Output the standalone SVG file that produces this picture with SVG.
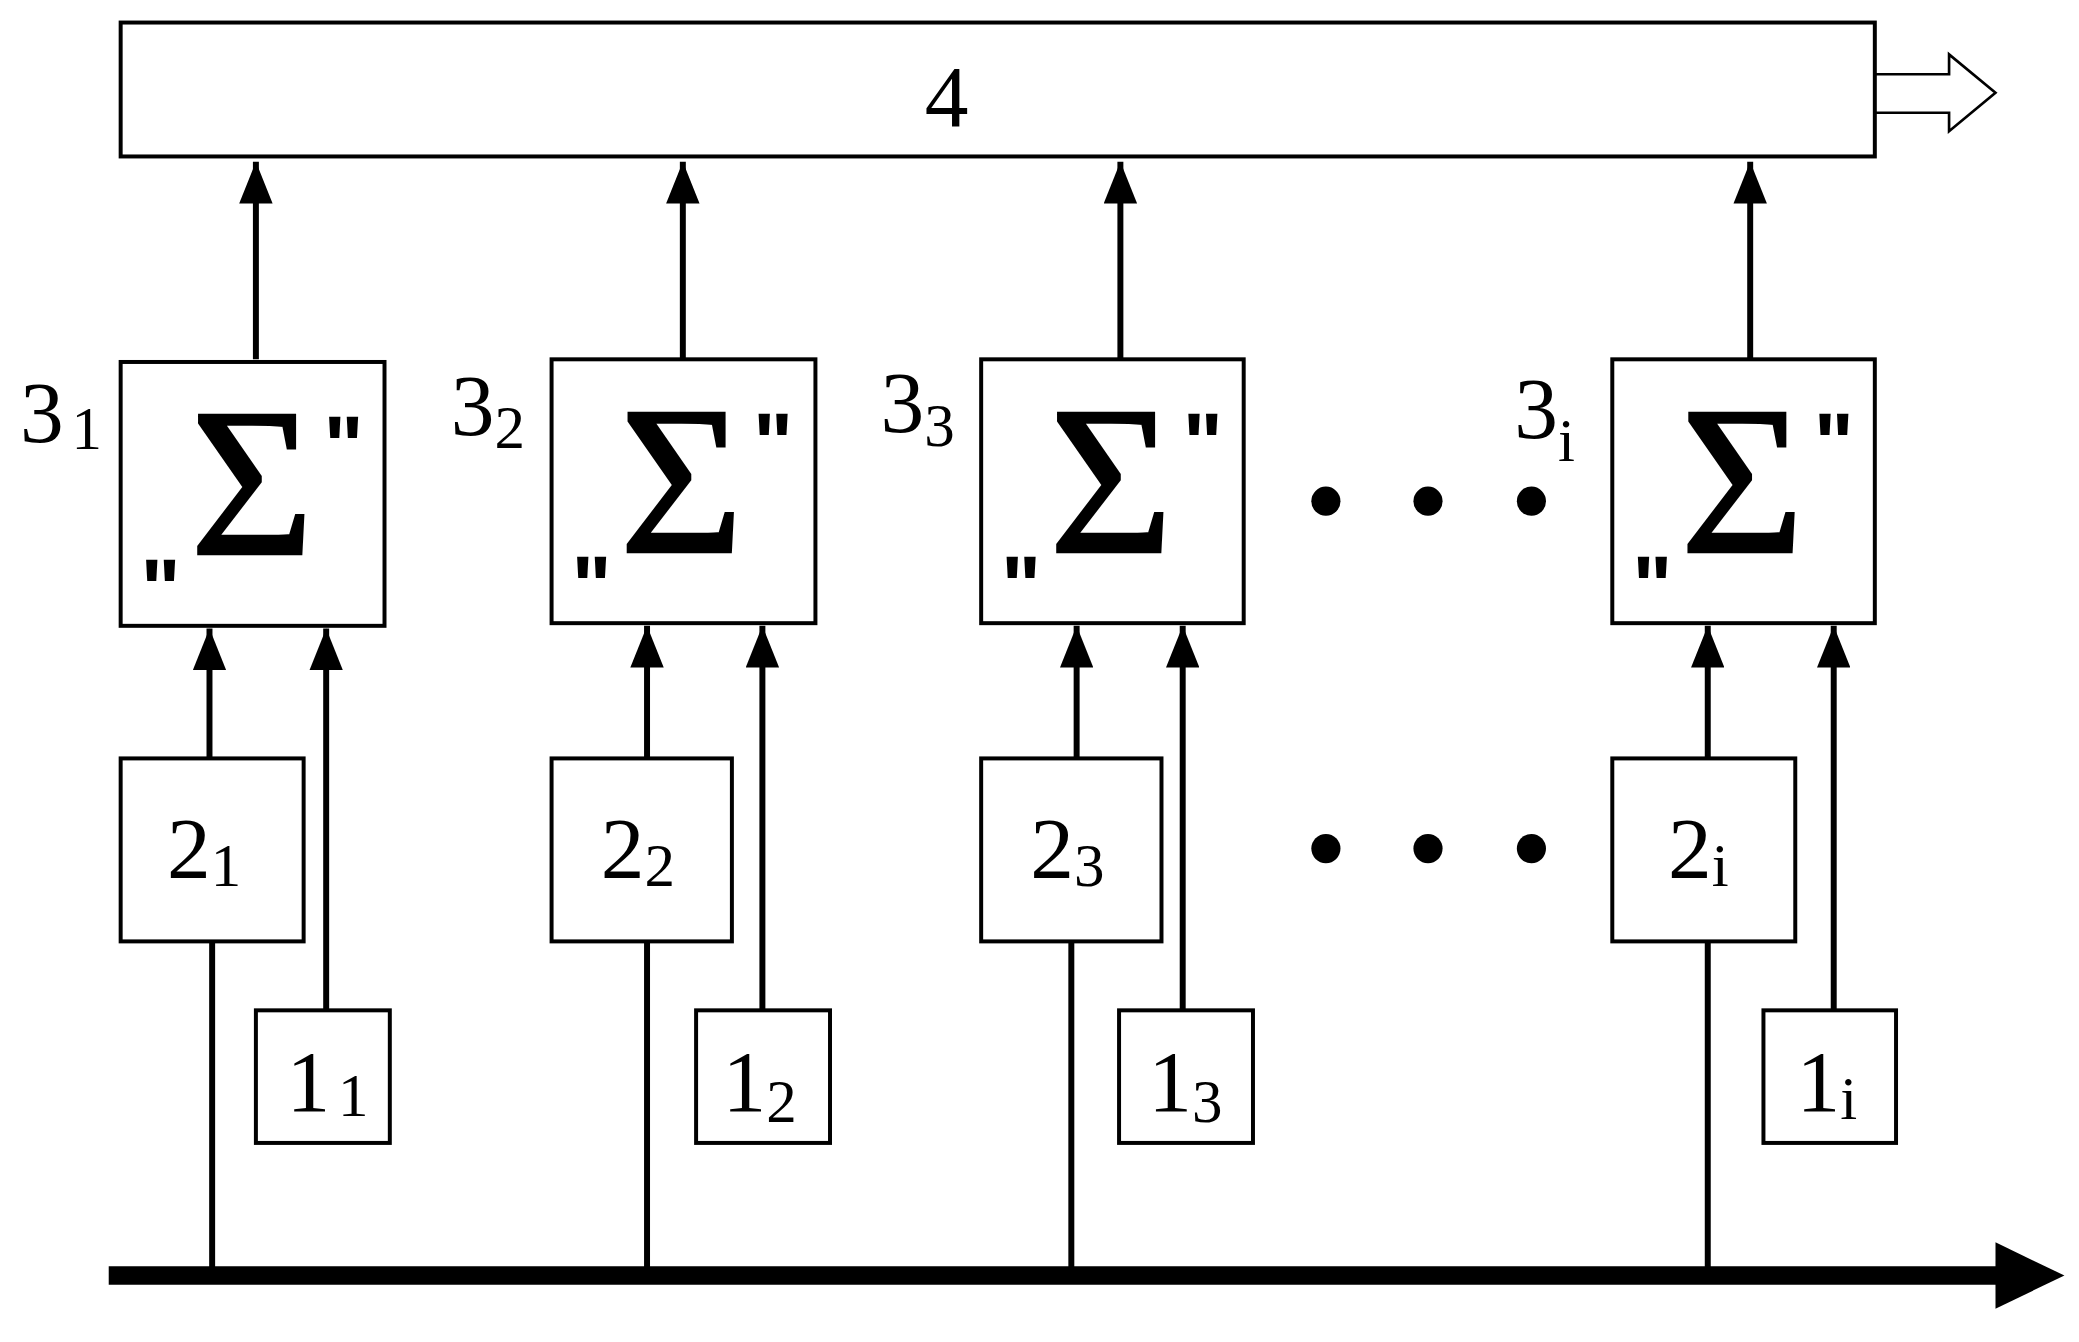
<svg xmlns="http://www.w3.org/2000/svg" width="2079" height="1342" viewBox="0 0 2079 1342">
<style>
.b{fill:#fff;stroke:#000;stroke-width:3}
.t{font-family:'Liberation Serif','Times New Roman',serif;font-size:66px;fill:#000}
.s{font-size:46px}
.sg{font-family:'Liberation Serif','Times New Roman',serif;font-size:160px;fill:#000;text-anchor:middle;stroke:#000;stroke-width:2}
.q{font-family:'Liberation Sans',Arial,sans-serif;font-weight:bold;font-size:64px;fill:#000}
.l{stroke:#000;stroke-width:4.5;fill:none}
</style>
<defs>
<marker id="a" viewBox="0 0 10 8" refX="10" refY="4" markerWidth="7" markerHeight="5.6" markerUnits="strokeWidth" orient="auto"><path d="M0,0 L10,4 L0,8Z" fill="#000"/></marker>
</defs>
<rect width="2079" height="1342" fill="#fff"/>
<g transform="scale(1.3259)">
<g id="connectors">
<path class="l" marker-end="url(#a)" d="M193,271V122"/>
<path class="l" marker-end="url(#a)" d="M515,271V122"/>
<path class="l" marker-end="url(#a)" d="M845,271V122"/>
<path class="l" marker-end="url(#a)" d="M1320,271V122"/>
<path class="l" marker-end="url(#a)" d="M158,572V474"/>
<path class="l" marker-end="url(#a)" d="M488,572V472"/>
<path class="l" marker-end="url(#a)" d="M812,572V472"/>
<path class="l" marker-end="url(#a)" d="M1288,572V472"/>
<path class="l" marker-end="url(#a)" d="M246,762V474"/>
<path class="l" marker-end="url(#a)" d="M575,762V472"/>
<path class="l" marker-end="url(#a)" d="M892,762V472"/>
<path class="l" marker-end="url(#a)" d="M1383,762V472"/>
<path class="l" d="M160,962V710M488,962V710M808,962V710M1288,962V710"/>
<path d="M82,955H1510V969H82Z" fill="#000"/>
<path d="M1505,937L1557,962L1505,987Z" fill="#000"/>
<path d="M1414,56H1470V41L1505,70L1470,99V85H1414" fill="#fff" stroke="#000" stroke-width="2"/>
</g>
<g id="n4"><rect class="b" x="91" y="17" width="1323" height="101"/><text class="t" x="714" y="95" text-anchor="middle">4</text></g>
<g id="n3_1"><rect class="b" x="91" y="273" width="199" height="199"/><text class="sg" x="190" y="418">Σ</text><text class="q" x="244" y="358">"</text><text class="q" x="106" y="466">"</text><text class="t" x="15" y="333">3<tspan class="s" dx="6" dy="6">1</tspan></text></g>
<g id="n3_2"><rect class="b" x="416" y="271" width="199" height="199"/><text class="sg" x="514" y="416">Σ</text><text class="q" x="568" y="356">"</text><text class="q" x="431" y="464">"</text><text class="t" x="340" y="328">3<tspan class="s" dy="10">2</tspan></text></g>
<g id="n3_3"><rect class="b" x="740" y="271" width="198" height="199"/><text class="sg" x="838" y="416">Σ</text><text class="q" x="892" y="356">"</text><text class="q" x="755" y="464">"</text><text class="t" x="664" y="326">3<tspan class="s" dy="10">3</tspan></text></g>
<g id="n3_i"><rect class="b" x="1216" y="271" width="198" height="199"/><text class="sg" x="1314" y="416">Σ</text><text class="q" x="1368" y="356">"</text><text class="q" x="1231" y="464">"</text><text class="t" x="1142" y="330">3<tspan class="s" dy="18">i</tspan></text></g>
<g id="dots" fill="#000"><circle cx="1000" cy="378" r="11"/><circle cx="1077" cy="378" r="11"/><circle cx="1155" cy="378" r="11"/><circle cx="1000" cy="640" r="11"/><circle cx="1077" cy="640" r="11"/><circle cx="1155" cy="640" r="11"/></g>
<g id="n2_1"><rect class="b" x="91" y="572" width="138" height="138"/><text class="t" x="126" y="662">2<tspan class="s" dy="6">1</tspan></text></g>
<g id="n2_2"><rect class="b" x="416" y="572" width="136" height="138"/><text class="t" x="453" y="662">2<tspan class="s" dy="6">2</tspan></text></g>
<g id="n2_3"><rect class="b" x="740" y="572" width="136" height="138"/><text class="t" x="777" y="662">2<tspan class="s" dy="6">3</tspan></text></g>
<g id="n2_i"><rect class="b" x="1216" y="572" width="138" height="138"/><text class="t" x="1258" y="662">2<tspan class="s" dy="6">i</tspan></text></g>
<g id="n1_1"><rect class="b" x="193" y="762" width="101" height="100"/><text class="t" x="216" y="838">1<tspan class="s" dx="6" dy="4">1</tspan></text></g>
<g id="n1_2"><rect class="b" x="525" y="762" width="101" height="100"/><text class="t" x="545" y="838">1<tspan class="s" dy="8">2</tspan></text></g>
<g id="n1_3"><rect class="b" x="844" y="762" width="101" height="100"/><text class="t" x="866" y="838">1<tspan class="s" dy="8">3</tspan></text></g>
<g id="n1_i"><rect class="b" x="1330" y="762" width="100" height="100"/><text class="t" x="1355" y="838">1<tspan class="s" dy="6">i</tspan></text></g>
</g>
</svg>
